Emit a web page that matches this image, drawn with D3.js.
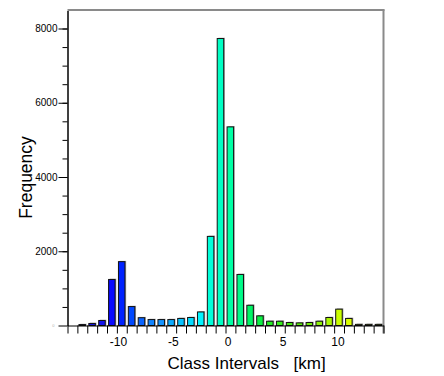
<!DOCTYPE html>
<html>
<head>
<meta charset="utf-8">
<script src="https://cdn.jsdelivr.net/npm/d3@7"></script>
<style>
  body { margin: 0; background: #fff; }
  svg { display: block; font-family: "Liberation Sans", Arial, Helvetica, sans-serif; }
</style>
</head>
<body>
<div class="histo-container"></div>
<script>
// class intervals (km) - histogram
var classStart = -14.6;
var classWidth = 0.9;
var frequencies = [0, 25, 55, 135, 1240, 1720, 510, 210, 160, 160, 160, 190, 215, 365,
    2400, 7730, 5350, 1375, 545, 260, 115, 115, 80, 70, 80, 115, 215, 440, 190, 30, 30, 30];
var barColors = ["#1818d8", "#1818d8", "#1818e0", "#1414ec", "#0a0aff", "#0022ff", "#0048ff", "#0a64ff",
    "#1084ff", "#1494ff", "#0cacff", "#08c4ff", "#04dcff", "#00f4ff", "#00ffda", "#00ffc4",
    "#00ffa4", "#00fa88", "#00f464", "#0cf044", "#22ee22", "#34ee18", "#46ee10", "#5aee0c",
    "#72f00a", "#8ef208", "#aaf604", "#caff00", "#daff00", "#e4ff00", "#e4ff00", "#e4ff00"];
var xTickLabels = [-10, -5, 0, 5, 10];
var yMajorTicks = [0, 2000, 4000, 6000, 8000];
var yMinorTicks = d3.range(500, 8500, 500);

var margin = { top: 10, right: 61, bottom: 51, left: 67 },
    width = 444 - margin.left - margin.right,
    height = 376 - margin.top - margin.bottom;

var svg = d3.select('.histo-container')
    .append('svg')
    .attr("width", width + margin.left + margin.right)
    .attr("height", height + margin.top + margin.bottom)
    .append("g")
    .attr("transform", "translate(" + (margin.left + 0.5) + "," + (margin.top + 0.5) + ")");

var bins = frequencies.map(function(f, i) {
    return { x0: classStart + i * classWidth, x1: classStart + (i + 1) * classWidth, freq: f, color: barColors[i] };
});
var binEdges = bins.map(function(d) { return d.x0; }).concat([bins[bins.length - 1].x1]);

var x = d3.scaleLinear()
    .domain([classStart, classStart + frequencies.length * classWidth])
    .range([0, width]);

var y = d3.scaleLinear()
    .domain([0, 8485])
    .range([height, 0]);

// frame (top + right)
svg.append("line")
    .attr("x1", 0).attr("x2", width + 1)
    .attr("y1", -0.5).attr("y2", -0.5)
    .attr("stroke", "#8a8a8a").attr("stroke-width", 2);
svg.append("line")
    .attr("x1", width).attr("x2", width)
    .attr("y1", -1).attr("y2", height + 8)
    .attr("stroke", "#8a8a8a").attr("stroke-width", 2);

// bars
var barW = x(classWidth) - x(0);
var layerBars = svg.append("g");

layerBars.selectAll("rect.shadow")
    .data(bins.filter(function(d) { return d.freq > 0; }))
    .enter().append("rect")
    .attr("class", "shadow")
    .attr("x", function(d) { return x(d.x0) + barW * 0.16 + 1.2; })
    .attr("y", function(d) { return y(d.freq) - 0.8; })
    .attr("width", barW * 0.66)
    .attr("height", function(d) { return height - y(d.freq) + 0.8; })
    .attr("fill", "#a8a8a8");

layerBars.selectAll("rect.bar")
    .data(bins.filter(function(d) { return d.freq > 0; }))
    .enter().append("rect")
    .attr("class", "bar")
    .attr("x", function(d) { return x(d.x0) + barW * 0.16; })
    .attr("y", function(d) { return y(d.freq); })
    .attr("width", barW * 0.66)
    .attr("height", function(d) { return height - y(d.freq); })
    .attr("fill", function(d) { return d.color; })
    .attr("stroke", "#111")
    .attr("stroke-width", 1);

// y axis
var yAxisMinor = d3.axisLeft(y)
    .tickValues(yMinorTicks)
    .tickSize(5)
    .tickSizeOuter(0)
    .tickFormat("");

var yAxisMajor = d3.axisLeft(y)
    .tickValues(yMajorTicks)
    .tickSize(9)
    .tickSizeOuter(0)
    .tickPadding(1)
    .tickFormat(function(d) { return String(d); });

svg.append("g").call(yAxisMinor);
var gy = svg.append("g").call(yAxisMajor);
gy.select(".domain").attr("stroke", "#000");
gy.selectAll("text")
    .attr("font-size", 10)
    .attr("fill", "#000");
gy.selectAll(".tick text")
    .filter(function(d) { return d === 0; })
    .attr("font-size", 4)
    .attr("fill", "#b0b0b0")
    .attr("x", -13);

// x axis
var xAxisEdges = d3.axisBottom(x)
    .tickValues(binEdges)
    .tickSize(8)
    .tickSizeOuter(0)
    .tickFormat("");

var xAxisLabels = d3.axisBottom(x)
    .tickValues(xTickLabels)
    .tickSize(0)
    .tickPadding(11.5)
    .tickFormat(function(d) { return String(d); });

svg.append("g")
    .attr("transform", "translate(0," + height + ")")
    .call(xAxisEdges);

var gx = svg.append("g")
    .attr("transform", "translate(0," + height + ")")
    .call(xAxisLabels);
gx.select(".domain").remove();
gx.selectAll("text")
    .attr("font-size", 12)
    .attr("fill", "#000");

// axis titles
svg.append("text")
    .attr("transform", "translate(" + (31.5 - margin.left) + "," + 167 + ") rotate(-90)")
    .attr("text-anchor", "middle")
    .attr("font-size", 17.5)
    .attr("fill", "#000")
    .text("Frequency");

var xTitle = svg.append("text")
    .attr("x", 167 - margin.left)
    .attr("y", 368 - margin.top)
    .attr("font-size", 17)
    .attr("fill", "#000");
xTitle.append("tspan").text("Class Intervals");
xTitle.append("tspan").attr("x", 293 - margin.left).text("[km]");
</script>
</body>
</html>
